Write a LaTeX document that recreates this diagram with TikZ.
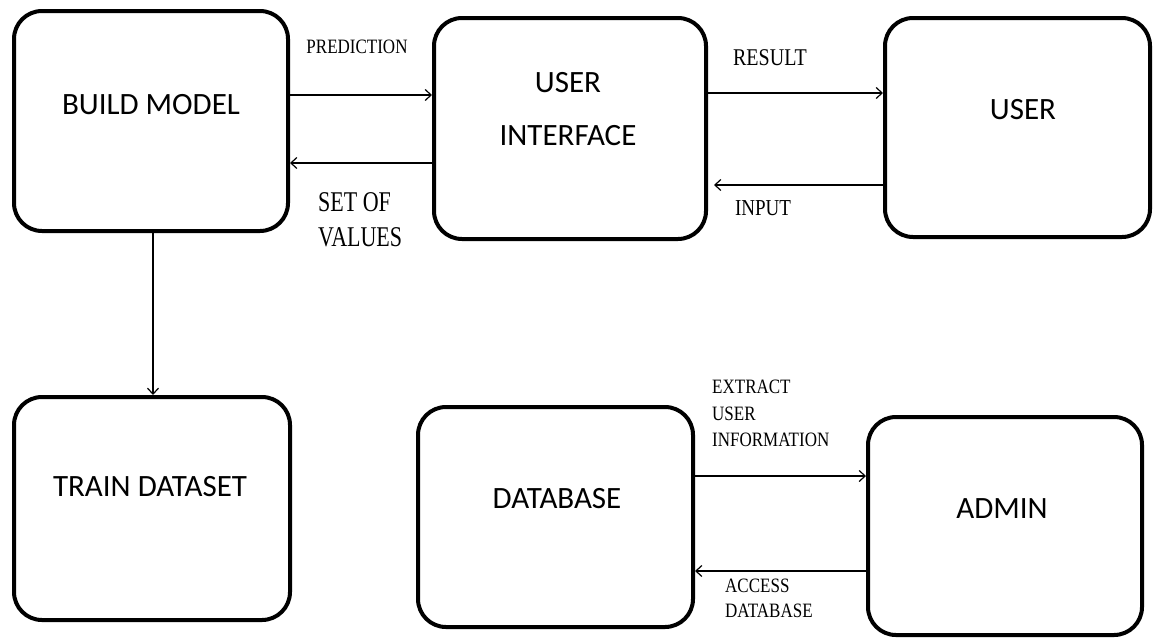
\documentclass[tikz,border=0pt]{standalone}
\usepackage{fontspec}
\setmainfont{Carlito}
\newfontfamily\labfont{Liberation Serif}
\usetikzlibrary{arrows.meta}
\newcommand{\vs}[1]{\scalebox{1}[1.2]{#1}}
\tikzset{
  box/.style={draw=black, line width=4pt, rounded corners=28pt, fill=white},
  boxtext/.style={font=\fontsize{31}{53}\selectfont, align=center, text=black},
  conn/.style={line width=1.4pt, -{Straight Barb[length=6pt,width=11pt,line width=1.2pt]}},
  lab/.style={font=\labfont\fontsize{17}{26.5}\selectfont, align=left, inner sep=0pt},
}
\begin{document}
\begin{tikzpicture}[x=1pt,y=-1pt]
\useasboundingbox (0,0) rectangle (1155,637);
% boxes
\node[box, minimum width=274pt, minimum height=220pt,
  label={[boxtext, yshift=16pt]center:BUILD MODEL}] (bm) at (151,121) {};
\node[box, minimum width=272pt, minimum height=221pt,
  label={[boxtext, yshift=19pt, xshift=-2pt]center:USER\\INTERFACE}] (ui) at (570,128.5) {};
\node[box, minimum width=265pt, minimum height=219pt,
  label={[boxtext, yshift=17.5pt, xshift=5.5pt]center:USER}] (user) at (1017.5,127.5) {};
\node[box, minimum width=276pt, minimum height=223pt,
  label={[boxtext, yshift=21.5pt, xshift=-2pt]center:TRAIN DATASET}] (td) at (152,508.5) {};
\node[box, minimum width=275pt, minimum height=220pt,
  label={[boxtext, yshift=18pt, xshift=1.5pt]center:DATABASE}] (db) at (555.5,517) {};
\node[box, minimum width=274pt, minimum height=218pt,
  label={[boxtext, yshift=17pt, xshift=-3pt]center:ADMIN}] (admin) at (1005,526) {};
% helper coordinates for connector heights
\coordinate (yA) at (0,95);
\coordinate (yB) at (0,163);
\coordinate (yC) at (0,93);
\coordinate (yD) at (0,185);
\coordinate (yE) at (0,476);
\coordinate (yF) at (0,571);
\coordinate (xV) at (153,0);
% connectors
\draw[conn] (bm.east |- yA) -- (ui.west |- yA);
\draw[conn] (ui.west |- yB) -- (bm.east |- yB);
\draw[conn] (ui.east |- yC) -- (user.west |- yC);
\draw[conn, shorten >=6pt] (user.west |- yD) -- (ui.east |- yD);
\draw[conn] (bm.south -| xV) -- (td.north -| xV);
\draw[conn] (db.east |- yE) -- (admin.west |- yE);
\draw[conn] (admin.west |- yF) -- (db.east |- yF);
% labels
\node[lab] (lpred) at (357,47) {\vs{PREDICTION}};
\node[lab, anchor=west, font=\labfont\fontsize{22}{35}\selectfont] (lset) at (318,219.5) {\scalebox{1}[1.3]{SET OF}\\\scalebox{1}[1.3]{VALUES}};
\node[lab, font=\labfont\fontsize{20}{26}\selectfont] (lres) at (770,58) {\vs{RESULT}};
\node[lab, font=\labfont\fontsize{19}{26}\selectfont] (linp) at (763,208) {\vs{INPUT}};
\node[lab, anchor=west] (lext) at (712,413.5) {\vs{EXTRACT}\\\vs{USER}\\\vs{INFORMATION}};
\node[lab, anchor=west, font=\labfont\fontsize{17}{25}\selectfont] (lacc) at (725,598.5) {\vs{ACCESS}\\\vs{DATABASE}};
\end{tikzpicture}
\end{document}
